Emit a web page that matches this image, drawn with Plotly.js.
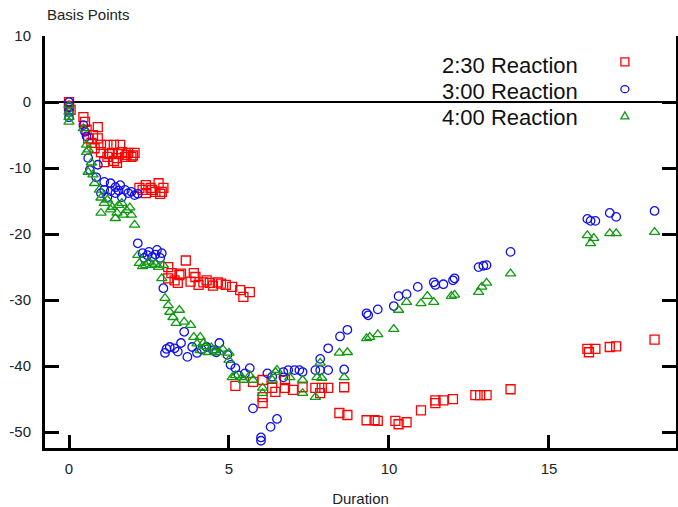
<!DOCTYPE html>
<html>
<head>
<meta charset="utf-8">
<script src="https://cdn.plot.ly/plotly-3.0.1.min.js"></script>
<style>html,body{margin:0;padding:0;background:#fff;}#chart{width:678px;height:507px;}</style>
</head>
<body>
<div id="chart"></div>
<script>
// ---- data ----
const seriesNames = ["2:30 Reaction", "3:00 Reaction", "4:00 Reaction"];

const r230_x = [0,0,0.05,0.45,0.5,0.9,0.55,0.75,0.9,0.6,0.7,0.8,1.0,1.2,1.4,1.6,1.0,1.35,1.65,1.85,2.05,1.2,1.5,1.75,1.95,1.1,1.5,1.25,1.55,1.8,2.0,1.4,
  2.2,2.4,2.55,2.8,2.9,2.7,2.4,2.95,2.6,2.85,2.3,
  3.1,3.65,3.2,3.45,3.1,3.4,3.9,3.8,4.05,4.2,4.4,4.65,4.9,5.1,5.35,5.65,5.45,3.5,3.95,4.3,4.5,4.75,3.3,
  5.2,5.75,6.05,6.05,6.05,6.35,6.45,6.75,6.75,7.0,7.3,7.7,7.9,7.85,8.1,8.6,
  8.45,8.7,9.3,9.55,9.65,10.2,10.3,10.55,11.0,11.45,11.45,11.7,12.0,12.7,12.85,13.05,13.8,
  16.2,16.25,16.45,16.9,17.1,18.3];
const r230_y = [0,-0.6,-1.2,-2.3,-3,-3.8,-4.2,-5,-5.5,-5.5,-6.2,-7,-6.5,-6.5,-6.5,-6.5,-7.6,-7.7,-7.6,-7.7,-7.7,-8.3,-8.5,-8.3,-8.3,-9.1,-9.2,-7.9,-7.9,-8.0,-8.1,-8.9,
  -13,-12.6,-13,-12.3,-13.6,-13.6,-13.8,-13,-13.3,-13.9,-13.3,
  -25,-24,-25.9,-26.2,-26.7,-27.4,-25.9,-27.2,-27.7,-27.3,-27.4,-27.3,-27.7,-28,-28.5,-28.8,-29.5,-26,-26.5,-27,-27.8,-27.5,-27,
  -43,-42.4,-42.1,-44.7,-45.6,-43.3,-43.9,-43.3,-42.1,-43.6,-43.2,-43.3,-43.3,-44.1,-43.3,-43.2,
  -47.1,-47.4,-48.2,-48.2,-48.3,-48.3,-48.8,-48.5,-46.7,-45.2,-45.6,-45.2,-45,-44.4,-44.4,-44.4,-43.5,
  -37.4,-37.9,-37.4,-37.1,-37,-36];

const r300_x = [0,0,0,0,0.45,0.5,0.55,
  0.6,0.65,0.9,0.85,1.1,1.3,1.45,1.1,1.6,1.75,1.45,1.85,2.05,1.65,1.2,1.0,1.3,1.55,1.95,2.15,
  2.15,2.3,2.5,2.75,2.9,2.6,2.45,2.35,2.7,2.85,2.95,
  3.0,3.15,3.3,3.5,3.7,3.85,4.0,4.3,4.5,4.7,4.95,3.6,3.4,4.15,4.6,3.05,
  5.05,5.2,5.3,5.5,5.65,5.75,6.0,6.0,6.3,6.5,6.2,6.35,6.7,6.85,7.05,7.3,6.7,7.7,7.85,8.1,7.2,
  7.85,8.1,8.47,8.7,8.6,9.3,9.35,9.65,10.15,10.3,10.55,10.9,11.45,11.4,11.7,12.0,12.05,12.8,12.95,13.05,13.8,
  16.2,16.3,16.45,16.9,17.1,18.3];
const r300_y = [0,-0.8,-1.5,-2.3,-3.5,-4.5,-5.2,
  -8.5,-10.3,-9.5,-11.4,-12.1,-12.3,-12.9,-13.3,-12.6,-13.3,-13.8,-13.8,-14.1,-14.4,-14.4,-13.8,-13.5,-13.4,-13.6,-13.9,
  -21.4,-22.9,-22.7,-22.4,-22.9,-23.5,-23.2,-23.6,-23.1,-23.6,-28.2,
  -38,-37.1,-37.3,-36.5,-38.6,-37.1,-38,-37.1,-37.6,-36.5,-38.3,-34.8,-37.8,-37.5,-37.9,-37.4,
  -39.8,-40.3,-41.4,-41.1,-40.3,-46.4,-50.8,-51.3,-49.2,-48,-41.1,-41.6,-40.9,-40.6,-40.6,-40.9,-41.7,-40.6,-40.6,-40.6,-40.6,
  -38.9,-37.3,-35.5,-34.5,-40.5,-32,-32.3,-31.4,-30.9,-29.4,-29.1,-28,-27.7,-27.3,-27.6,-27,-26.7,-25,-24.8,-24.7,-22.7,
  -17.7,-18,-18,-16.8,-17.4,-16.5];

const r400_x = [0,0,0,0,0.45,0.55,0.6,0.55,
  0.6,0.75,0.8,0.95,1.0,1.1,1.2,1.0,1.35,1.5,1.65,1.8,1.95,2.05,1.7,1.45,1.3,1.55,1.9,0.7,
  2.15,2.2,2.4,2.6,2.8,2.95,2.3,2.5,2.7,2.9,
  3.0,3.1,3.15,3.25,3.45,3.35,3.6,3.8,3.9,4.1,4.2,4.1,4.35,4.55,4.7,5.0,5.0,4.25,4.45,4.8,4.0,
  5.1,5.4,5.45,5.75,6.05,6.05,6.35,6.5,6.9,7.3,7.3,7.7,7.75,7.85,7.9,8.6,8.45,8.7,6.45,5.65,5.2,
  9.3,9.4,9.65,10.15,10.3,10.55,11.0,11.2,11.4,12.05,11.95,12.8,12.9,13.05,13.8,
  16.2,16.3,16.4,16.9,17.1,18.3];
const r400_y = [-0.5,-1.5,-2.3,-3,-4,-6.5,-7.2,-7.6,
  -10.6,-11,-12.3,-13.3,-14.5,-15.3,-14.8,-16.8,-15.9,-16.8,-15.3,-16.4,-17.1,-18.6,-17.1,-17.6,-16.3,-15.6,-16.0,-9.2,
  -23.2,-24.4,-24.7,-24.7,-25,-24.7,-24.9,-24.2,-24.5,-26.7,
  -29.7,-30.8,-31.8,-32.6,-31.5,-33.5,-33.3,-33.8,-35.6,-35.6,-36.5,-37.6,-37.9,-37.6,-37.9,-38,-39.1,-37,-37.2,-37.4,-36.6,
  -41.7,-41.7,-42.1,-42.1,-43.3,-44.1,-42.1,-40.6,-41.7,-42.1,-44.1,-44.7,-41.7,-39.5,-41.8,-41.7,-38,-37.9,-40.9,-41.4,-41.4,
  -35.8,-35.6,-35.2,-34.4,-31.5,-30.3,-30.5,-29.4,-30.3,-29.2,-29.4,-28.8,-28,-27.4,-26,
  -20.2,-21.4,-20.6,-19.9,-19.9,-19.7];

const xTicks = [0, 5, 10, 15];
const yTicks = [10, 0, -10, -20, -30, -40, -50];
const xTitle = "Duration";
const yTitle = "Basis Points";

// ---- styles ----
const colors = ["#ff0000", "#1010ee", "#119911"];
const symbols = ["square-open", "circle-open", "triangle-up-open"];
const xs = [r230_x, r300_x, r400_x];
const ys = [r230_y, r300_y, r400_y];

const traces = xs.map((x, i) => ({
  type: "scatter", mode: "markers", name: seriesNames[i],
  x: x, y: ys[i],
  marker: {symbol: symbols[i], size: i === 1 ? 8.5 : 9, color: colors[i], line: {color: colors[i], width: 1.3}},
  showlegend: false, hoverinfo: "x+y"
}));

const font = "Liberation Sans, Arial, Helvetica, sans-serif";
const legY = [0.929, 0.866, 0.803];
const keyY = [0.937, 0.871, 0.806];
const annotations = seriesNames.map((n, i) => ({
  xref: "paper", yref: "paper", x: 0.626, y: legY[i], xanchor: "left", yanchor: "middle",
  text: n, showarrow: false, font: {family: font, size: 22, color: "#111"}
}));
annotations.push({xref: "paper", yref: "paper", x: 0, y: 1, xanchor: "left", yanchor: "bottom",
  yshift: 11, text: yTitle, showarrow: false, font: {family: font, size: 15, color: "#222"}});

const kx = 0.919;
const shapes = [
  {type: "rect", xref: "paper", yref: "paper", xsizemode: "pixel", ysizemode: "pixel",
   xanchor: kx, yanchor: keyY[0], x0: -4, x1: 4, y0: -4, y1: 4, line: {color: colors[0], width: 1.3}},
  {type: "circle", xref: "paper", yref: "paper", xsizemode: "pixel", ysizemode: "pixel",
   xanchor: kx, yanchor: keyY[1], x0: -4, x1: 4, y0: -3.5, y1: 3.5, line: {color: colors[1], width: 1.3}},
  {type: "path", xref: "paper", yref: "paper", xsizemode: "pixel", ysizemode: "pixel",
   xanchor: kx, yanchor: keyY[2], path: "M -4,-3 L 4,-3 L 0,4 Z", line: {color: colors[2], width: 1.3}}
];

const layout = {
  width: 678, height: 507,
  margin: {l: 45, r: 2, t: 36, b: 59, pad: 0},
  paper_bgcolor: "#fff", plot_bgcolor: "#fff",
  showlegend: false,
  font: {family: font, size: 15, color: "#222"},
  xaxis: {
    range: [-0.75, 18.97], tickvals: xTicks, ticktext: xTicks.map(String),
    showgrid: false, zeroline: false, showline: true, linecolor: "#000", linewidth: 3,
    ticks: "inside", ticklen: 13, tickwidth: 3, tickcolor: "#000", mirror: false,
    ticklabelstandoff: 5,
    tickfont: {family: font, size: 15, color: "#222"},
    title: {text: xTitle, standoff: 20, font: {family: font, size: 15, color: "#222"}}
  },
  yaxis: {
    range: [-52.4, 10], tickvals: yTicks, ticktext: yTicks.map(String),
    showgrid: false, zeroline: true, zerolinecolor: "#000", zerolinewidth: 1.5,
    showline: true, linecolor: "#000", linewidth: 3,
    ticks: "inside", ticklen: 14, tickwidth: 3, tickcolor: "#000", mirror: "ticks",
    ticklabelstandoff: 8,
    tickfont: {family: font, size: 15, color: "#222"}
  },
  annotations: annotations,
  shapes: shapes
};

Plotly.newPlot("chart", traces, layout, {displayModeBar: false, staticPlot: true});
</script>
</body>
</html>
